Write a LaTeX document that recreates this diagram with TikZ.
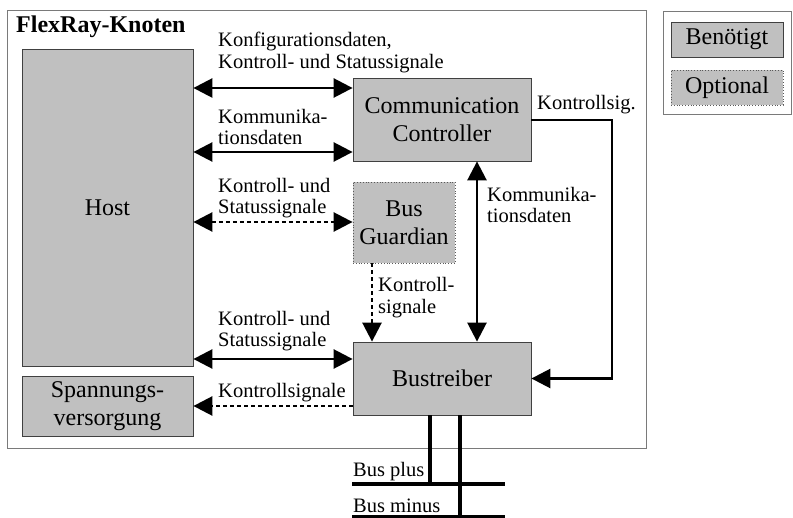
\documentclass[tikz,border=0pt]{standalone}
\usepackage{fontspec}
\setmainfont{Liberation Serif}
\usetikzlibrary{arrows.meta}
\definecolor{boxgray}{HTML}{C0C0C0}
\definecolor{framegray}{HTML}{7A7A7A}
\begin{document}
\begin{tikzpicture}[x=1pt,y=-1pt,
  box/.style={draw=black!75, fill=boxgray, line width=0.8pt, inner sep=0pt,
    font=\fontsize{24}{28}\selectfont, align=center},
  optbox/.style={box, dotted, draw=black!65},
  frame/.style={draw=framegray, line width=1pt, inner sep=0pt},
  lbl/.style={font=\fontsize{20.5}{21.8}\selectfont, align=left, inner sep=0pt, anchor=base west},
  tip/.tip={Triangle[length=19pt,width=19pt]},
  link/.style={line width=2.6pt, tip-tip},
  sig/.style={line width=2.6pt, -tip},
  dashlink/.style={link, dash pattern=on 4pt off 3pt},
  dashsig/.style={sig, dash pattern=on 4pt off 3pt},
  bus/.style={line width=4pt}
]
\useasboundingbox (0,0) rectangle (793,518);

% node frame and legend frame
\node[frame, minimum width=639pt, minimum height=438pt] (knoten) at (326.5,230) {};
\node[font=\bfseries\fontsize{24}{28}\selectfont, inner sep=0pt, anchor=base west] (title) at (16,33) {FlexRay-Knoten};
\node[frame, minimum width=128pt, minimum height=103pt] (legend) at (727,63.5) {};
\node[box, minimum width=112pt, minimum height=35pt] (req) at (727,39.5) {Benötigt};
\node[optbox, minimum width=112pt, minimum height=35pt] (opt) at (727,87.5) {Optional};

% components
\node[box, minimum width=171pt, minimum height=317pt] (host) at (107.5,207.5) {Host};
\node[box, minimum width=171pt, minimum height=60pt] (psu) at (107.5,406) {Spannungs-\\versorgung};
\node[box, minimum width=178pt, minimum height=83pt] (cc) at (442,119.5) {Communication\\Controller};
\node[optbox, minimum width=102pt, minimum height=81pt] (bg) at (404,222.5) {Bus\\Guardian};
\node[box, minimum width=178pt, minimum height=73pt] (bt) at (442,378.5) {Bustreiber};

% host interfaces (multi-line labels are placed by their last baseline)
\draw[link] (host.east |- 0,88) -- (cc.west |- 0,88);
\node[lbl] (l1) at (218,68.5) {Konfigurationsdaten,\\Kontroll- und Statussignale};
\draw[link] (host.east |- 0,152) -- (cc.west |- 0,152);
\node[lbl] (l2) at (218,145) {Kommunika-\\tionsdaten};
\draw[dashlink] (host.east |- 0,222) -- (bg.west |- 0,222);
\node[lbl] (l3) at (218,214) {Kontroll- und\\Statussignale};
\draw[link] (host.east |- 0,359) -- (bt.west |- 0,359);
\node[lbl] (l4) at (218,347) {Kontroll- und\\Statussignale};
\draw[dashsig] (bt.west |- 0,406) -- (psu.east |- 0,406);
\node[lbl] (l5) at (218,398) {Kontrollsignale};

% controller, guardian and driver
\draw[link] (cc.south -| 477,0) -- (bt.north -| 477,0);
\node[lbl] (l6) at (487,223) {Kommunika-\\tionsdaten};
\draw[dashsig] (bg.south -| 372,0) -- (bt.north -| 372,0);
\node[lbl] (l7) at (378,313.5) {Kontroll-\\signale};
\coordinate (turn) at (612,120);
\draw[sig] (cc.east |- turn) -- (turn) |- (bt.east);
\node[lbl] (l8) at (537,110) {Kontrollsig.};

% bus lines
\coordinate (plusL) at (352,484);
\coordinate (plusR) at (505,484);
\coordinate (minusL) at (352,517);
\coordinate (minusR) at (505,517);
\draw[bus] (bt.south -| 430,0) -- (430,484);
\draw[bus] (bt.south -| 460,0) -- (460,517);
\draw[bus] (plusL) -- (plusR);
\draw[bus] (minusL) -- (minusR);
\node[lbl] (bplus) at (353,477) {Bus plus};
\node[lbl] (bminus) at (353,512) {Bus minus};
\end{tikzpicture}
\end{document}
